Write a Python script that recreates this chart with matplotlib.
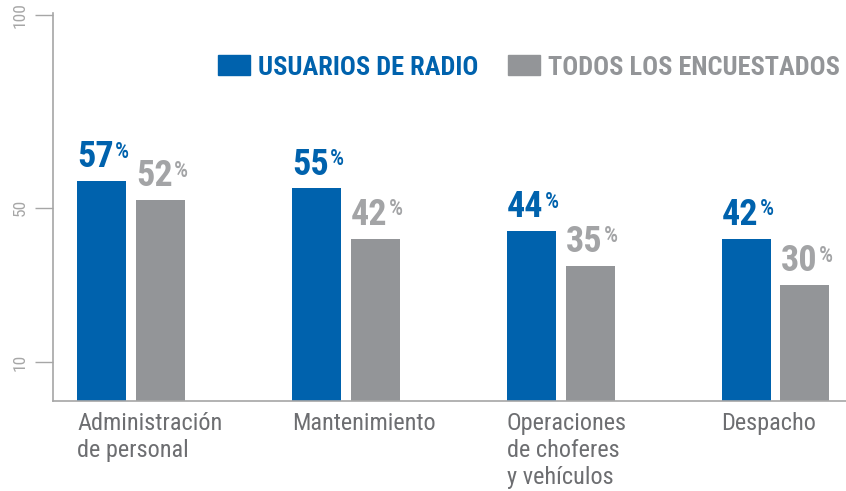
import matplotlib
matplotlib.use("Agg")
import matplotlib.pyplot as plt
from matplotlib import font_manager as fm
import numpy as np

categories = ["Administración\nde personal", "Mantenimiento",
              "Operaciones\nde choferes\ny vehículos", "Despacho"]
radio_values = [57, 55, 44, 42]
todos_values = [52, 42, 35, 30]
series_names = ["USUARIOS DE RADIO", "TODOS LOS ENCUESTADOS"]
yticks = [10, 50, 100]

BLUE = "#0062ad"
GRAY = "#939598"
LABEL_GRAY = "#a3a4a6"
CAT_GRAY = "#6d6e71"
AXIS_GRAY = "#a6a6a6"

names = {f.name for f in fm.fontManager.ttflist}
fam = "DejaVu Sans"
for cand in ["Roboto Condensed", "Liberation Sans Narrow", "Open Sans Condensed",
             "DejaVu Sans Condensed", "Noto Sans"]:
    if cand in names:
        fam = cand
        break
stretch = "normal"
if fam == "DejaVu Sans":
    stretch = "condensed"
plt.rcParams["font.family"] = [fam, "DejaVu Sans"]

W, H = 846, 491
fig = plt.figure(figsize=(W / 100, H / 100), dpi=100)
left, right, top, bottom = 53, 846, 13, 400.6
ax = fig.add_axes([left / W, 1 - bottom / H, (right - left) / W, (bottom - top) / H])

x = np.arange(len(categories))
bw = 0.228
off = 0.137
ax.bar(x - off, radio_values, bw, color=BLUE)
ax.bar(x + off, todos_values, bw, color=GRAY)

ax.set_xlim(-0.363, 3.328)
ax.set_ylim(0, 100.5)
ax.set_yticks(yticks)
ax.set_yticklabels([str(t) for t in yticks], rotation=90, va="center",
                   fontsize=12.5, color=AXIS_GRAY, fontstretch=stretch)
ax.tick_params(axis="y", length=13, width=1, color=AXIS_GRAY, pad=5)
ax.set_xticks([])
for s in ["top", "right"]:
    ax.spines[s].set_visible(False)
for s in ["left", "bottom"]:
    ax.spines[s].set_color(AXIS_GRAY)
    ax.spines[s].set_linewidth(1.2)

def pct_label(xl, v, color):
    t = ax.annotate(str(v), xy=(xl, v), xytext=(0, 4), textcoords="offset points",
                    ha="left", va="bottom", fontsize=26, fontweight="bold",
                    color=color, fontstretch=stretch)
    ax.annotate("%", xycoords=t, xy=(1, 1), xytext=(1, -1), textcoords="offset points",
                ha="left", va="top", fontsize=16, fontweight="medium", color=color,
                fontstretch=stretch)

for i in range(len(categories)):
    pct_label(x[i] - off - bw / 2, radio_values[i], BLUE)
    pct_label(x[i] + off - bw / 2, todos_values[i], LABEL_GRAY)
    ax.annotate(categories[i], xy=(x[i] - off - bw / 2, 0), xytext=(0, -8),
                textcoords="offset points", ha="left", va="top", fontsize=17.5,
                color=CAT_GRAY, linespacing=1.22, fontstretch=stretch,
                annotation_clip=False)

# legend
def legend_item(px, color, text, tcolor):
    fig.patches.append(plt.Rectangle((px / W, 1 - 75 / H), 32 / W, 20 / H,
                                     transform=fig.transFigure, color=color))
    fig.text((px + 40) / W, 1 - 75 / H, text, ha="left", va="baseline",
             fontsize=19, fontweight="bold", color=tcolor, fontstretch=stretch)

legend_item(218, BLUE, series_names[0], BLUE)
legend_item(508, GRAY, series_names[1], GRAY)

fig.savefig("out.png", dpi=100)
